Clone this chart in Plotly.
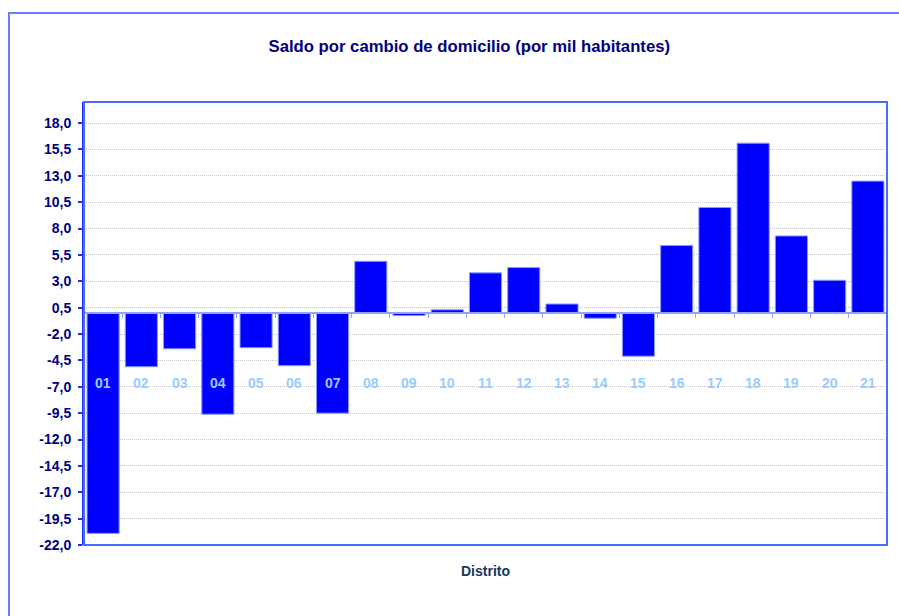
import plotly.graph_objects as go

categories = ["01", "02", "03", "04", "05", "06", "07", "08", "09", "10", "11",
              "12", "13", "14", "15", "16", "17", "18", "19", "20", "21"]
values = [-20.9, -5.1, -3.4, -9.6, -3.3, -5.0, -9.5, 4.9, -0.25, 0.3, 3.8,
          4.3, 0.85, -0.5, -4.1, 6.4, 10.0, 16.1, 7.3, 3.1, 12.5]
ytick_vals = [-22.0, -19.5, -17.0, -14.5, -12.0, -9.5, -7.0, -4.5, -2.0, 0.5,
              3.0, 5.5, 8.0, 10.5, 13.0, 15.5, 18.0]
ytick_text = ["-22,0", "-19,5", "-17,0", "-14,5", "-12,0", "-9,5", "-7,0", "-4,5",
              "-2,0", "0,5", "3,0", "5,5", "8,0", "10,5", "13,0", "15,5", "18,0"]
title_text = "Saldo por cambio de domicilio (por mil habitantes)"
xaxis_title = "Distrito"

Y_MIN, Y_MAX = -22.0, 20.0
LABEL_Y = -6.6
FONT = "Liberation Sans, Arial, sans-serif"

fig = go.Figure()
fig.add_trace(go.Bar(
    x=categories, y=values,
    marker=dict(color="#0000FF", line=dict(color="#8C9CFF", width=1)),
    hoverinfo="x+y",
))

annotations = []
for i, c in enumerate(categories):
    annotations.append(dict(
        x=i, y=LABEL_Y, xref="x", yref="y", text="<b>" + c + "</b>", showarrow=False,
        font=dict(family=FONT, size=14, color="#99CCFF"),
        xanchor="center", yanchor="middle",
    ))
annotations.append(dict(
    x=0.5, y=-0.058, xref="paper", yref="paper", text="<b>" + xaxis_title + "</b>",
    showarrow=False, font=dict(family=FONT, size=14, color="#17375E"),
    xanchor="center", yanchor="middle",
))

zero_pos = (0 - Y_MIN) / (Y_MAX - Y_MIN)

fig.update_layout(
    width=899, height=616,
    margin=dict(l=84, r=12, t=102, b=71),
    paper_bgcolor="white", plot_bgcolor="white",
    showlegend=False,
    bargap=0.16,
    title=dict(text="<b>" + title_text + "</b>", x=0.522, xanchor="center",
               y=1 - 46 / 616, yanchor="middle",
               font=dict(family=FONT, size=16.7, color="#000080")),
    xaxis=dict(
        type="category", anchor="free", position=zero_pos,
        showline=True, linecolor="#8FA3FF", linewidth=2,
        ticks="outside", tickson="boundaries", ticklen=4, tickcolor="#8FA3FF",
        tickwidth=1, showticklabels=False, showgrid=False, zeroline=False,
        layer="above traces",
    ),
    yaxis=dict(
        range=[Y_MIN, Y_MAX], tickvals=ytick_vals, ticktext=["<b>" + t + "</b>" for t in ytick_text],
        showgrid=True, gridcolor="#C4C4C4", griddash="1px,1px", gridwidth=1,
        zeroline=False, showline=True, linecolor="#1A2EFF", linewidth=2,
        ticks="outside", ticklen=4, tickcolor="#1A2EFF", tickwidth=2,
        ticklabelstandoff=4,
        tickfont=dict(family=FONT, size=14, color="#000080"),
    ),
    annotations=annotations,
    shapes=[
        dict(type="rect", xref="paper", yref="paper", x0=0, x1=1, y0=0, y1=1,
             line=dict(color="#4A6CFF", width=2), layer="above"),
        dict(type="path", xref="paper", yref="paper",
             path="M -0.0934 -0.3 L -0.0934 1.2009 L 1.2 1.2009",
             line=dict(color="#6A7CFF", width=2), layer="above"),
    ],
)

fig.write_html("out.html", config={"displayModeBar": False},
               post_script="document.body.style.margin='0';document.body.style.padding='0';")
